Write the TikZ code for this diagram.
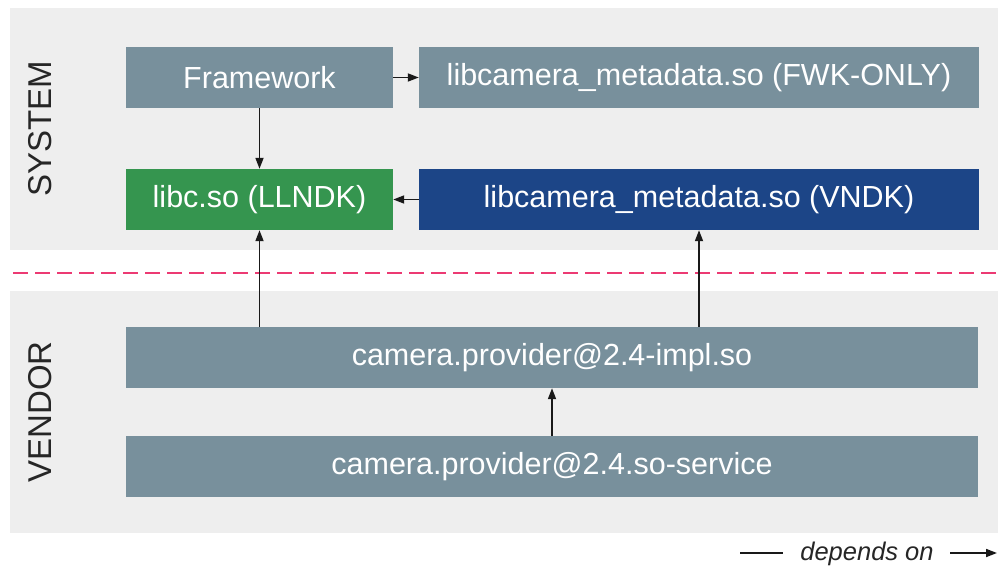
\documentclass[tikz,border=0pt]{standalone}
\usepackage{fontspec}
\setmainfont{Liberation Sans}
\usetikzlibrary{arrows.meta}
\definecolor{band}{HTML}{EEEEEE}
\definecolor{boxgray}{HTML}{78909C}
\definecolor{boxgreen}{HTML}{35954F}
\definecolor{boxblue}{HTML}{1C4587}
\definecolor{dashpink}{HTML}{EC3A73}
\definecolor{txtdark}{HTML}{262626}
\tikzset{
  lib/.style={rectangle, fill=boxgray, text=white, inner sep=0pt, minimum height=61pt, font=\fontsize{30.5}{36}\selectfont},
  dep/.style={line width=1.7pt, draw=black!90, -{Triangle[length=11pt,width=8pt]}},
  sidelabel/.style={rotate=90, text=txtdark, font=\fontsize{33}{38}\selectfont},
}
\begin{document}
\begin{tikzpicture}[x=1pt,y=-1pt]
\useasboundingbox (0,0) rectangle (998,567);
\fill[white] (0,0) rectangle (998,567);
% bands
\fill[band] (10,8) rectangle (998,250);
\fill[band] (10,291) rectangle (998,533);
\node[sidelabel] (sys) at (40,129) {SYSTEM};
\node[sidelabel] (ven) at (40,412) {VENDOR};
% divider
\coordinate (d1) at (13,273);
\coordinate (d2) at (998,273);
\draw[dashpink, line width=2pt, dash pattern=on 15pt off 7pt] (d1) -- (d2);
% boxes
\node[lib, minimum width=267pt] (fw) at (259.5,77.5) {Framework};
\node[lib, minimum width=560pt] (fwk) at (699,77.5) {libcamera\_metadata.so (FWK-ONLY)};
\node[lib, fill=boxgreen, minimum width=267pt] (libc) at (259.5,199.5) {libc.so (LLNDK)};
\node[lib, fill=boxblue, minimum width=560pt] (vndk) at (699,199.5) {libcamera\_metadata.so (VNDK)};
\node[lib, minimum width=852pt] (impl) at (552,357.5) {camera.provider@2.4-impl.so};
\node[lib, minimum width=852pt] (svc) at (552,466.5) {camera.provider@2.4.so-service};
% dependencies
\draw[dep] (fw.south) -- (libc.north);
\draw[dep] (fw.east) -- (fwk.west);
\draw[dep] (vndk.west) -- (libc.east);
\draw[dep] (impl.north -| libc.south) -- (libc.south);
\draw[dep] (impl.north -| vndk.south) -- (vndk.south);
\draw[dep] (svc.north) -- (impl.south);
% legend
\coordinate (la) at (740,553);
\coordinate (lb) at (783,553);
\coordinate (lc) at (950,553);
\coordinate (ld) at (997,553);
\node[text=txtdark, font=\fontsize{25.5}{30}\selectfont\itshape] (legend) at (867,554) {depends on};
\draw[line width=1.7pt, draw=black!90] (la) -- (lb);
\draw[dep] (lc) -- (ld);
\end{tikzpicture}
\end{document}
